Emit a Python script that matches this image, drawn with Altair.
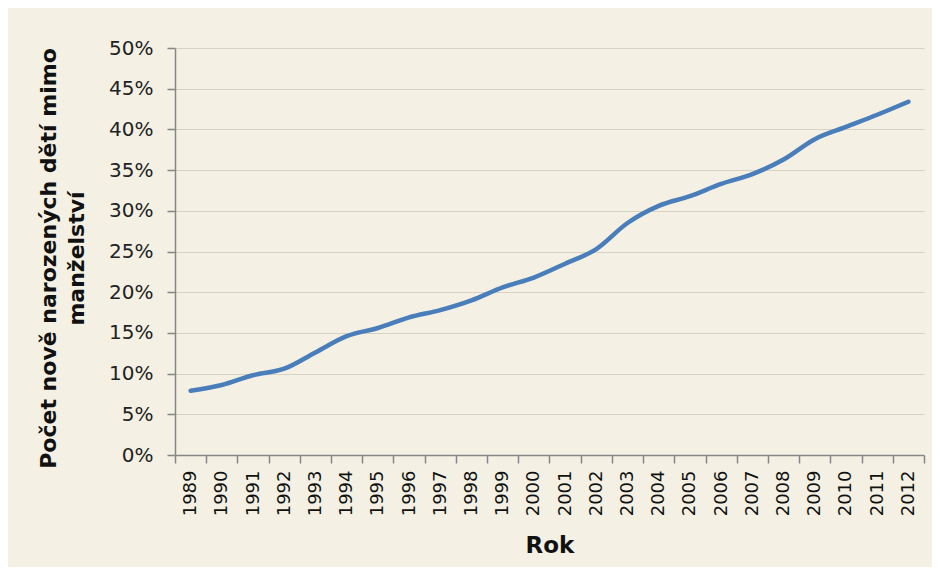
import altair as alt
import pandas as pd

years = [str(y) for y in range(1989, 2013)]
share = [7.9, 8.6, 9.8, 10.6, 12.6, 14.6, 15.6, 16.9, 17.8, 19.0, 20.6, 21.8,
         23.5, 25.3, 28.5, 30.6, 31.8, 33.3, 34.5, 36.3, 38.8, 40.3, 41.8, 43.4]

df = pd.DataFrame({"Rok": years, "share": [v / 100 for v in share]})

BG = "#F4F1E4"
AXIS = "#868686"
GRID = "#D6D3C5"

chart = (
    alt.Chart(df)
    .mark_line(color="#4A7EBB", strokeWidth=4.5, interpolate="monotone", strokeCap="round")
    .encode(
        x=alt.X(
            "Rok:O",
            sort=years,
            scale=alt.Scale(type="band", paddingInner=0, paddingOuter=0),
            axis=alt.Axis(
                title="Rok",
                labelAngle=-90,
                tickBand="extent",
                grid=False,
                domainColor=AXIS,
                domainWidth=1.5,
                tickColor=AXIS,
                tickWidth=1.5,
                tickSize=8,
                labelPadding=7,
                labelFont="DejaVu Sans",
                labelFontSize=18,
                labelColor="#111111",
                titleFont="DejaVu Sans",
                titleFontSize=23,
                titleFontWeight="bold",
                titleColor="#111111",
                titlePadding=19,
            ),
        ),
        y=alt.Y(
            "share:Q",
            scale=alt.Scale(domain=[0, 0.5], nice=False),
            axis=alt.Axis(
                title=["Počet nově narozených dětí mimo", "manželství"],
                format=".0%",
                values=[i * 0.05 for i in range(11)],
                grid=True,
                gridColor=GRID,
                gridWidth=1.2,
                domainColor=AXIS,
                domainWidth=1.5,
                tickColor=AXIS,
                tickWidth=1.5,
                tickSize=8,
                labelPadding=14,
                labelFont="DejaVu Sans",
                labelFontSize=20,
                labelColor="#222222",
                titleFont="DejaVu Sans",
                titleFontSize=22,
                titleFontWeight="bold",
                titleColor="#111111",
                titlePadding=20,
                titleLineHeight=28,
                titleY=210,
            ),
        ),
    )
    .properties(
        width=749,
        height=407,
        background=BG,
        padding={"left": 167, "top": 40, "right": 8, "bottom": 112},
        autosize=alt.AutoSizeParams(type="none"),
    )
    .configure_view(stroke=None)
)

chart.save("out.html", embed_options={"renderer": "svg", "actions": False})
